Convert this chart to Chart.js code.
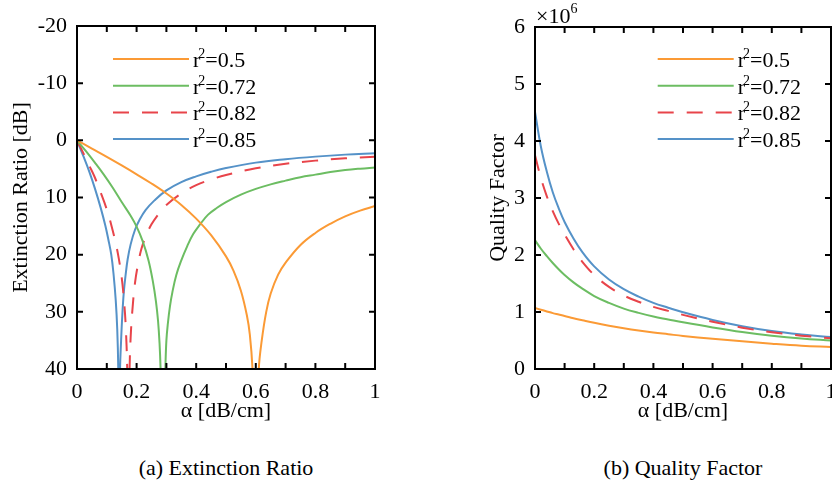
<!DOCTYPE html>
<html>
<head>
<meta charset="utf-8">
<script src="https://cdn.jsdelivr.net/npm/chart.js@4.4.1/dist/chart.umd.min.js"></script>
<style>
  html, body { margin: 0; padding: 0; background: #fff; overflow: hidden; width: 832px; height: 493px; }
  canvas { position: absolute; top: 0; }
  #erChart { left: 0; }
  #qChart { left: 420px; }
  .caption { position: absolute; top: 455px; width: 300px; text-align: center; line-height: 26px;
    font: 22px 'Liberation Serif', 'Times New Roman', serif; color: #000; }
</style>
</head>
<body>
<canvas id="erChart" width="420" height="430"></canvas>
<canvas id="qChart" width="480" height="430"></canvas>
<div class="caption" style="left:76px">(a) Extinction Ratio</div>
<div class="caption" style="left:533px">(b) Quality Factor</div>
<script>
// r^2 values of the four rings
const r2Values = ["0.5", "0.72", "0.82", "0.85"];
const colors = ["#fb9a35", "#6cbd62", "#e8444a", "#5592c8"];

// (a) extinction ratio [dB] (dips run past 40 and get clipped)
const er05Alpha = [0, 0.05, 0.1, 0.15, 0.2, 0.25, 0.3, 0.35, 0.4, 0.45, 0.5, 0.525, 0.55, 0.57, 0.58, 0.589, 0.6, 0.61, 0.62, 0.635, 0.65, 0.675, 0.7, 0.75, 0.8, 0.85, 0.9, 0.95, 1];
const er05 = [0, 1.45, 2.9, 4.4, 5.95, 7.55, 9.3, 11.3, 13.7, 16.6, 20.3, 22.8, 26.3, 30.6, 34.0, 40, 55, 40, 35.0, 30.0, 26.8, 23.5, 21.4, 18.3, 16.2, 14.6, 13.3, 12.3, 11.5];

const er072Alpha = [0, 0.03, 0.06, 0.09, 0.12, 0.15, 0.18, 0.2, 0.22, 0.24, 0.255, 0.265, 0.272, 0.277, 0.2805, 0.2885, 0.2965, 0.3, 0.305, 0.312, 0.32, 0.333, 0.35, 0.37, 0.39, 0.413, 0.44, 0.47, 0.5, 0.55, 0.6, 0.65, 0.7, 0.75, 0.8, 0.85, 0.9, 0.95, 1];
const er072 = [0, 1.9, 3.9, 6.0, 8.3, 10.8, 13.2, 15.1, 17.6, 21.0, 24.8, 28.2, 31.6, 35.5, 40, 55, 40, 35.0, 32.0, 29.0, 26.6, 23.6, 21.0, 18.5, 16.4, 14.7, 13.0, 11.8, 10.8, 9.5, 8.5, 7.7, 7.05, 6.45, 6.0, 5.55, 5.2, 4.95, 4.75];

const er082Alpha = [0, 0.02, 0.04, 0.06, 0.08, 0.1, 0.115, 0.13, 0.14, 0.15, 0.157, 0.163, 0.1685, 0.1725, 0.1765, 0.18, 0.186, 0.195, 0.205, 0.216, 0.23, 0.25, 0.275, 0.3, 0.35, 0.4, 0.45, 0.5, 0.6, 0.7, 0.8, 0.9, 1];
const er082 = [0, 2.1, 4.3, 6.5, 9.2, 12.1, 14.8, 18.0, 20.6, 24.0, 27.6, 32.0, 40, 55, 40, 34.5, 29.6, 24.8, 21.6, 19.0, 16.9, 14.7, 12.8, 11.3, 9.3, 7.85, 6.85, 6.05, 4.9, 4.1, 3.55, 3.15, 2.85];

const er085Alpha = [0, 0.02, 0.04, 0.06, 0.08, 0.095, 0.105, 0.115, 0.123, 0.13, 0.135, 0.1385, 0.1415, 0.1445, 0.148, 0.152, 0.157, 0.163, 0.17, 0.18, 0.195, 0.21, 0.23, 0.26, 0.3, 0.35, 0.4, 0.45, 0.5, 0.6, 0.7, 0.8, 0.9, 1];
const er085 = [0, 2.6, 5.3, 8.4, 11.9, 14.9, 17.3, 20.0, 23.6, 28.0, 33.0, 40, 55, 40, 35.0, 30.6, 26.6, 23.6, 20.8, 18.2, 15.6, 13.9, 12.2, 10.5, 8.75, 7.3, 6.3, 5.5, 4.85, 3.9, 3.3, 2.85, 2.5, 2.25];

// (b) quality factor, x10^6
const qAlpha = [0, 0.02, 0.04, 0.06, 0.08, 0.1, 0.13, 0.16, 0.2, 0.25, 0.3, 0.35, 0.4, 0.45, 0.5, 0.6, 0.7, 0.8, 0.9, 1];
const q05 = [1.07, 1.04, 1.01, 0.98, 0.955, 0.93, 0.89, 0.855, 0.81, 0.76, 0.715, 0.675, 0.64, 0.61, 0.58, 0.53, 0.485, 0.445, 0.41, 0.385];
const q072 = [2.26, 2.11, 1.98, 1.86, 1.75, 1.65, 1.52, 1.41, 1.28, 1.16, 1.06, 0.985, 0.92, 0.87, 0.82, 0.73, 0.65, 0.585, 0.535, 0.50];
const q082 = [3.75, 3.35, 3.03, 2.77, 2.55, 2.36, 2.1, 1.88, 1.65, 1.44, 1.29, 1.18, 1.09, 1.02, 0.95, 0.83, 0.725, 0.645, 0.585, 0.54];
const q085 = [4.51, 3.9, 3.46, 3.1, 2.82, 2.58, 2.29, 2.05, 1.8, 1.57, 1.40, 1.27, 1.16, 1.075, 0.995, 0.86, 0.75, 0.665, 0.605, 0.56];

const serif = "'Liberation Serif', 'Times New Roman', serif";
Chart.defaults.font.family = serif;
Chart.defaults.font.size = 22;
Chart.defaults.color = "#000";

function pts(xs, ys) {
  return xs.map((x, i) => ({ x: x, y: ys[i] }));
}

function series(i, xs, ys) {
  return {
    label: "r²=" + r2Values[i],
    data: pts(xs, ys),
    borderColor: colors[i],
    borderWidth: 2,
    borderDash: i === 2 ? [16, 13] : [],
    pointRadius: 0,
    fill: false,
    tension: 0.4,
    clip: 0,
  };
}

// box with inward ticks on all four sides
const framePlugin = {
  id: "frame",
  afterDatasetsDraw(chart) {
    const { ctx, chartArea: a, scales } = chart;
    const len = 6;
    ctx.save();
    ctx.strokeStyle = "#000";
    ctx.lineWidth = 2;
    ctx.beginPath();
    scales.x.ticks.forEach((t) => {
      const px = scales.x.getPixelForValue(t.value);
      ctx.moveTo(px, a.bottom); ctx.lineTo(px, a.bottom - len);
      ctx.moveTo(px, a.top); ctx.lineTo(px, a.top + len);
    });
    scales.y.ticks.forEach((t) => {
      const py = scales.y.getPixelForValue(t.value);
      ctx.moveTo(a.left, py); ctx.lineTo(a.left + len, py);
      ctx.moveTo(a.right, py); ctx.lineTo(a.right - len, py);
    });
    ctx.stroke();
    ctx.strokeRect(a.left, a.top, a.right - a.left, a.bottom - a.top);
    ctx.restore();
  },
};

// legend drawn inside the plot area
const innerLegend = {
  id: "innerLegend",
  afterDatasetsDraw(chart, args, opts) {
    const { ctx } = chart;
    chart.data.datasets.forEach((ds, i) => {
      const y = opts.y + i * opts.gap;
      ctx.save();
      ctx.strokeStyle = ds.borderColor;
      ctx.lineWidth = ds.borderWidth;
      ctx.setLineDash(ds.borderDash);
      ctx.beginPath();
      ctx.moveTo(opts.x, y);
      ctx.lineTo(opts.x + opts.len, y);
      ctx.stroke();
      ctx.setLineDash([]);
      ctx.fillStyle = "#000";
      ctx.textBaseline = "alphabetic";
      let tx = opts.x + opts.len + 4;
      const by = y + 8;
      ctx.font = "22px " + serif;
      ctx.fillText("r", tx, by);
      tx += ctx.measureText("r").width - 2;
      ctx.font = "14px " + serif;
      ctx.fillText("2", tx, by - 9);
      tx += ctx.measureText("2").width;
      ctx.font = "22px " + serif;
      ctx.fillText(ds.label.slice(ds.label.indexOf("=")), tx, by);
      ctx.restore();
    });
    if (opts.exponent) {
      const a = chart.chartArea;
      ctx.save();
      ctx.fillStyle = "#000";
      ctx.font = "22px " + serif;
      ctx.fillText("×10", a.left + 1, 23);
      const w = ctx.measureText("×10").width;
      ctx.font = "14px " + serif;
      ctx.fillText(opts.exponent, a.left + 1 + w, 13);
      ctx.restore();
    }
  },
};

function xAxis() {
  return {
    type: "linear",
    min: 0,
    max: 1,
    grid: { display: false, drawTicks: false },
    border: { display: false },
    ticks: {
      stepSize: 0.1,
      autoSkip: false,
      maxRotation: 0,
      padding: 10,
      callback: (v) => {
        const k = Math.round(v * 10);
        return k % 2 === 0 ? String(k / 10) : "";
      },
    },
    title: { display: true, text: "α [dB/cm]", padding: { top: 0, bottom: 5.8 } },
    afterFit: (s) => { s.height = 61; },
  };
}

new Chart(document.getElementById("erChart"), {
  type: "line",
  data: {
    datasets: [
      series(0, er05Alpha, er05),
      series(1, er072Alpha, er072),
      series(2, er082Alpha, er082),
      series(3, er085Alpha, er085),
    ],
  },
  options: {
    responsive: false,
    animation: false,
    layout: { padding: { left: 0, top: 26, right: 45, bottom: 0 } },
    scales: {
      x: xAxis(),
      y: {
        type: "linear",
        reverse: true,
        min: -20,
        max: 40,
        grid: { display: false, drawTicks: false },
        border: { display: false },
        ticks: { stepSize: 5, padding: 10, callback: (v) => (v % 10 === 0 ? String(v) : "") },
        title: { display: true, text: "Extinction Ratio [dB]", padding: { top: 7.8, bottom: 0 } },
        afterFit: (s) => { s.width = 77; },
      },
    },
    plugins: {
      legend: { display: false },
      tooltip: { enabled: false },
      innerLegend: { x: 113, y: 59, gap: 26.7, len: 76 },
    },
  },
  plugins: [framePlugin, innerLegend],
});

new Chart(document.getElementById("qChart"), {
  type: "line",
  data: {
    datasets: [
      series(0, qAlpha, q05),
      series(1, qAlpha, q072),
      series(2, qAlpha, q082),
      series(3, qAlpha, q085),
    ],
  },
  options: {
    responsive: false,
    animation: false,
    layout: { padding: { left: 0, top: 27, right: 69, bottom: 0 } },
    scales: {
      x: xAxis(),
      y: {
        type: "linear",
        min: 0,
        max: 6,
        grid: { display: false, drawTicks: false },
        border: { display: false },
        ticks: { stepSize: 0.5, padding: 10, callback: (v) => (Number.isInteger(v) ? String(v) : "") },
        title: { display: true, text: "Quality Factor", padding: { top: 64.8, bottom: 0 } },
        afterFit: (s) => { s.width = 115; },
      },
    },
    plugins: {
      legend: { display: false },
      tooltip: { enabled: false },
      innerLegend: { x: 237.7, y: 59, gap: 26.7, len: 76, exponent: "6" },
    },
  },
  plugins: [framePlugin, innerLegend],
});
</script>
</body>
</html>
